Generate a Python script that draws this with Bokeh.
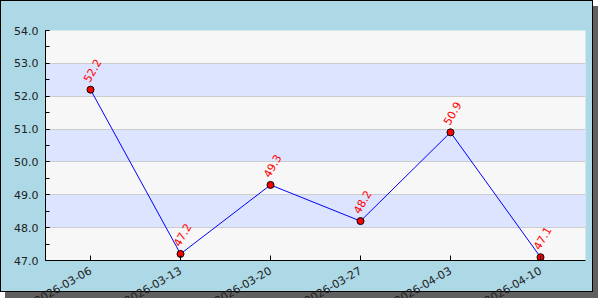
import math
from bokeh.plotting import figure
from bokeh.models import (Range1d, FixedTicker, SingleIntervalTicker, PrintfTickFormatter,
                          ColumnDataSource)
from bokeh.core.properties import value
from bokeh.embed import file_html
from bokeh.resources import INLINE

# ---- data ----
dates = ["2026-03-06", "2026-03-13", "2026-03-20", "2026-03-27", "2026-04-03", "2026-04-10"]
values = [52.2, 47.2, 49.3, 48.2, 50.9, 47.1]
y_min, y_max = 47.0, 54.0

xs = list(range(len(dates)))
src = ColumnDataSource(dict(
    x=xs,
    y=values,
    label=[f"{v:.1f}" for v in values],
))

FONT = "DejaVu Sans"

p = figure(frame_width=540, frame_height=230, output_backend="svg", toolbar_location=None,
           x_range=Range1d(-0.5, len(dates) - 0.5), y_range=Range1d(y_min, y_max),
           min_border_left=44, min_border_right=9, min_border_top=29, min_border_bottom=0)
p.border_fill_color = None
p.background_fill_color = "#F7F7F7"
p.outline_line_color = None
# outer panel: light blue box with black border and drop shadow;
# tick labels may run over the border/shadow, clipped at the window edge
p.styles = {
    "width": "593px",
    "height": "292px",
    "overflow": "clip",
    "overflow-clip-margin": "7px",
    "background-color": "#ADD8E6",
    "border": "1px solid black",
    "box-shadow": "5px 6px 0 #606060",
}

# ---- grid / bands ----
p.xgrid.visible = False
p.ygrid.grid_line_color = "#CCCCCC"
p.ygrid.band_fill_color = "#DDE4FF"
p.ygrid.band_fill_alpha = 1

# ---- y axis ----
yax = p.yaxis[0]
yax.ticker = SingleIntervalTicker(interval=1, num_minor_ticks=2)
yax.formatter = PrintfTickFormatter(format="%.1f")
yax.major_tick_in = 4
yax.major_tick_out = 0
yax.minor_tick_in = 4
yax.minor_tick_out = 0
yax.major_label_standoff = 7
yax.major_label_text_font = FONT
yax.major_label_text_font_size = "11px"
yax.major_label_text_color = "#222222"
yax.axis_line_color = "black"
yax.major_tick_line_color = "black"
yax.minor_tick_line_color = "black"

# ---- x axis ----
xax = p.xaxis[0]
xax.ticker = FixedTicker(ticks=xs)
xax.major_tick_in = 5
xax.major_tick_out = 0
xax.minor_tick_line_color = None
xax.major_label_overrides = {i: d for i, d in zip(xs, dates)}
xax.major_label_orientation = math.radians(30)
xax.major_label_standoff = 9
xax.major_label_text_font = FONT
xax.major_label_text_font_size = "11px"
xax.major_label_text_color = "#222222"
xax.axis_line_color = "black"
xax.major_tick_line_color = "black"

# ---- series ----
p.line("x", "y", source=src, line_color="blue", line_width=1)
p.scatter("x", "y", source=src, size=7, fill_color="red", line_color="black", line_width=1)
p.text("x", "y", text="label", source=src, angle=60, angle_units="deg",
       text_align="center", text_baseline="middle", x_offset=2, y_offset=-19,
       text_font=value(FONT), text_font_size="11px", text_color="red")

open("out.html", "w").write(file_html(p, INLINE))
